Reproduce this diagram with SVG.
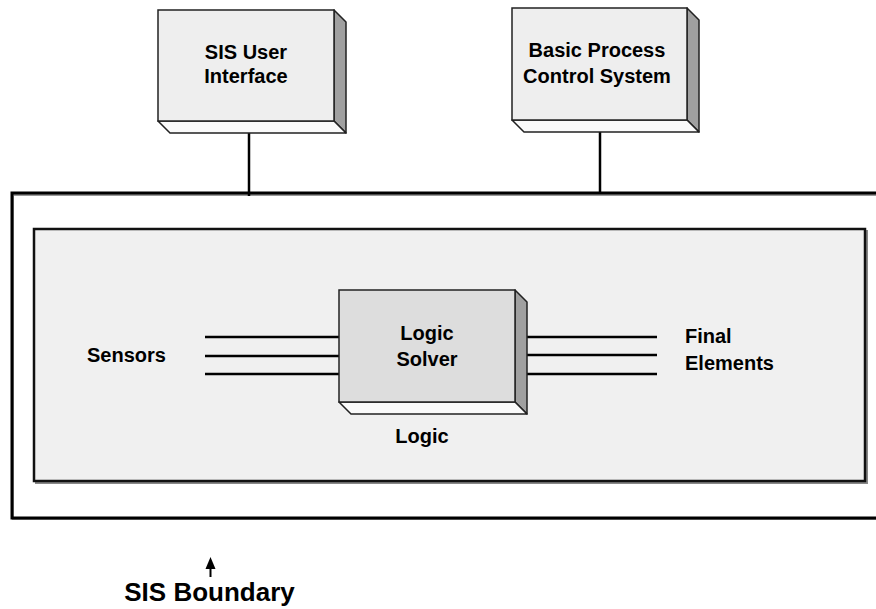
<svg xmlns="http://www.w3.org/2000/svg" width="876" height="609" viewBox="0 0 876 609">
<style>
  .t { font-family: "Liberation Sans", Arial, sans-serif; font-weight: bold; font-size: 20px; fill: #000; }
  .c { text-anchor: middle; }
  .front { stroke: #222; stroke-width: 1.5; }
  .side { fill: #a0a0a0; stroke: #222; stroke-width: 1.5; stroke-linejoin: round; }
  .bottom { fill: #fafafa; stroke: #222; stroke-width: 1.5; stroke-linejoin: round; }
  .line { stroke: #000; stroke-width: 2.5; fill: none; }
</style>
<rect width="876" height="609" fill="#ffffff"/>
<g id="sis-boundary">
  <path d="M876,194 H12 V518 H876" fill="none" stroke="#999" stroke-width="2" transform="translate(1,1)"/>
  <path d="M876,193 H12 V518 H876" fill="none" stroke="#000" stroke-width="3"/>
</g>
<g id="logic-area">
  <rect x="35" y="230" width="831" height="252" fill="none" stroke="#888" stroke-width="2" transform="translate(1,1)"/>
  <rect x="34" y="229" width="831" height="252" fill="#f0f0f0" stroke="#111" stroke-width="2.5"/>
</g>
<g id="connectors">
  <line class="line" x1="249" y1="133" x2="249" y2="196"/>
  <line class="line" x1="600" y1="132" x2="600" y2="192"/>
  <line class="line" x1="205" y1="337" x2="339" y2="337"/>
  <line class="line" x1="205" y1="356" x2="339" y2="356"/>
  <line class="line" x1="205" y1="374" x2="339" y2="374"/>
  <line class="line" x1="527" y1="337" x2="657" y2="337"/>
  <line class="line" x1="527" y1="355" x2="657" y2="355"/>
  <line class="line" x1="527" y1="374" x2="657" y2="374"/>
  <line stroke="#000" stroke-width="2" x1="210.5" y1="566" x2="210.5" y2="577"/>
  <polygon points="210.5,557 215.5,569 205.5,569" fill="#000"/>
</g>
<g id="sis-user-interface">
  <polygon class="side" points="334,10 346,22 346,133 334,121"/>
  <polygon class="bottom" points="158,121 334,121 346,133 170,133"/>
  <rect class="front" x="158" y="10" width="176" height="111" fill="#eeeeee"/>
  <text class="t c" x="246" y="59">SIS User</text>
  <text class="t c" x="246" y="83">Interface</text>
</g>
<g id="bpcs">
  <polygon class="side" points="687,8 699,20 699,132 687,120"/>
  <polygon class="bottom" points="512,120 687,120 699,132 524,132"/>
  <rect class="front" x="512" y="8" width="175" height="112" fill="#eeeeee"/>
  <text class="t c" x="597" y="57">Basic Process</text>
  <text class="t c" x="597" y="83">Control System</text>
</g>
<g id="logic-solver">
  <polygon class="side" points="515,290 527,302 527,414 515,402"/>
  <polygon class="bottom" points="339,402 515,402 527,414 351,414"/>
  <rect class="front" x="339" y="290" width="176" height="112" fill="#dddddd"/>
  <text class="t c" x="427" y="340">Logic</text>
  <text class="t c" x="427" y="366">Solver</text>
</g>
<g id="sensors">
  <text class="t" x="87" y="362">Sensors</text>
</g>
<g id="final-elements">
  <text class="t" x="685" y="343">Final</text>
  <text class="t" x="685" y="370">Elements</text>
</g>
<g id="logic-label">
  <text class="t c" x="422" y="443">Logic</text>
</g>
<g id="sis-boundary-label">
  <text class="t c" x="209.5" y="601" style="font-size:26px">SIS Boundary</text>
</g>
</svg>
